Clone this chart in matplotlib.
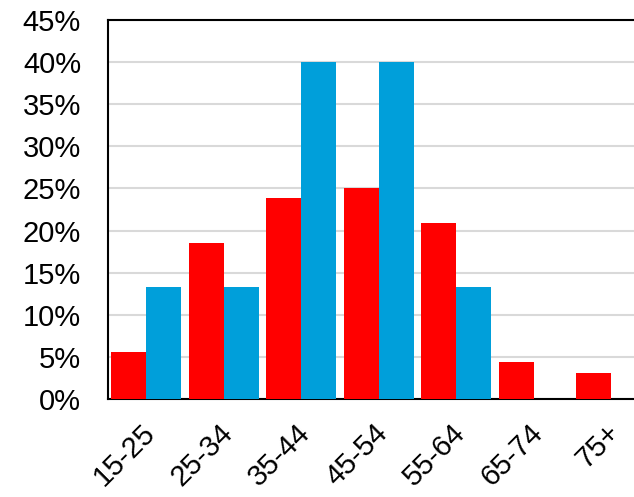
import numpy as np
import matplotlib
matplotlib.use('Agg')
import matplotlib.pyplot as plt
import matplotlib.transforms as mtransforms
from matplotlib.ticker import PercentFormatter

categories = ['15-25', '25-34', '35-44', '45-54', '55-64', '65-74', '75+']
red_vals = [5.6, 18.5, 23.9, 25.1, 20.9, 4.4, 3.1]
blue_vals = [13.3, 13.3, 40.0, 40.0, 13.3, 0.0, 0.0]
yticks = np.arange(0, 50, 5)

plt.rcParams['font.family'] = ['Liberation Sans', 'DejaVu Sans']

fig = plt.figure(figsize=(6.34, 4.97), dpi=100)
ax = fig.add_axes([107.5 / 634, 98 / 497, 542.5 / 634, 379 / 497])

x = np.arange(len(categories))
w = 0.45
ax.bar(x - w / 2, red_vals, w, color='#FF0000', zorder=3)
ax.bar(x + w / 2, blue_vals, w, color='#009FDA', zorder=3)

ax.set_xlim(-0.5, len(categories) - 0.5)
ax.set_ylim(0, 45)
ax.set_yticks(yticks)
ax.yaxis.set_major_formatter(PercentFormatter(decimals=0))
ax.set_xticks(x)
ax.set_xticklabels(categories, rotation=45, ha='right', va='top', rotation_mode='anchor')
ax.tick_params(axis='both', length=0)
ax.tick_params(axis='x', pad=14, labelsize=21)
ax.tick_params(axis='y', pad=19, labelsize=21)

# nudge rotated labels slightly left
offset = mtransforms.ScaledTranslation(-5 / 100, 0, fig.dpi_scale_trans)
for lbl in ax.get_xticklabels():
    lbl.set_transform(lbl.get_transform() + offset)

ax.grid(axis='y', color='#D9D9D9', linewidth=1.5, zorder=0)
for s in ['left', 'bottom', 'top']:
    ax.spines[s].set_linewidth(1.5)
    ax.spines[s].set_color('black')
ax.spines['right'].set_visible(False)

fig.savefig('out.png', dpi=100)
